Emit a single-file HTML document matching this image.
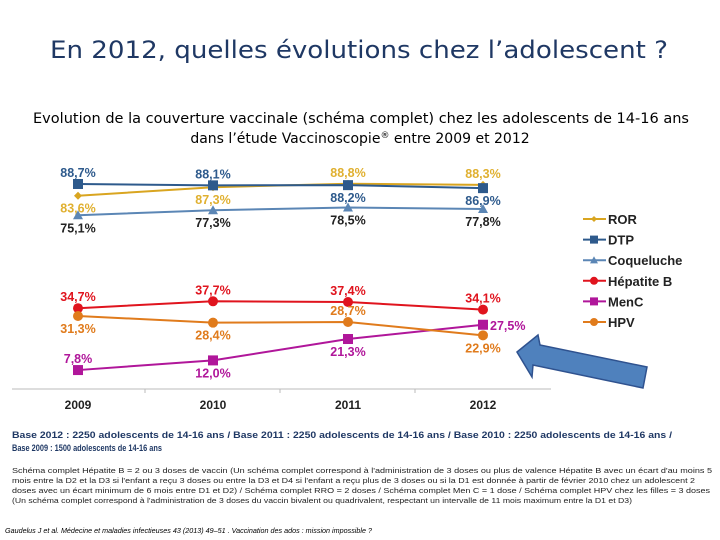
<!DOCTYPE html>
<html><head><meta charset="utf-8">
<style>
body{margin:0;width:720px;height:540px;background:#fff;overflow:hidden;font-family:"Liberation Sans",sans-serif;}
svg{position:absolute;left:0;top:0}
</style></head>
<body>
<svg width="720" height="540">
<text x="359" y="58" text-anchor="middle" font-family="DejaVu Sans, Liberation Sans, sans-serif" font-size="24" textLength="618" lengthAdjust="spacingAndGlyphs" fill="#1f3864">En 2012, quelles évolutions chez l’adolescent ?</text>
<text x="361" y="123" text-anchor="middle" font-family="DejaVu Sans, Liberation Sans, sans-serif" font-size="14" textLength="656" lengthAdjust="spacingAndGlyphs" fill="#000">Evolution de la couverture vaccinale (schéma complet) chez les adolescents de 14-16 ans</text>
<text x="360" y="143" text-anchor="middle" font-family="DejaVu Sans, Liberation Sans, sans-serif" font-size="14" fill="#000">dans l’étude Vaccinoscopie<tspan font-size="9" dy="-5">®</tspan><tspan dy="5"> entre 2009 et 2012</tspan></text>
<line x1="12" y1="389" x2="551" y2="389" stroke="#bbb" stroke-width="1"/>
<g id="chart"></g>
<g id="legend"></g>
<polygon points="517,352 538,335 540,345 647,367 643,388 533,365 532,377" fill="#4f81bd" stroke="#2f528f" stroke-width="1.5"/>
<text x="12" y="438" font-size="9.5" textLength="660" lengthAdjust="spacingAndGlyphs" fill="#1f3864" font-weight="bold">Base 2012 : 2250 adolescents de 14-16 ans  / Base 2011 : 2250 adolescents de 14-16 ans / Base 2010 : 2250 adolescents de 14-16 ans  /</text>
<text x="12" y="451" font-size="9.5" textLength="150" lengthAdjust="spacingAndGlyphs" fill="#1f3864" font-weight="bold">Base 2009 : 1500 adolescents de 14-16 ans</text>
<g font-size="7.5" fill="#222">
<text x="12" y="473" textLength="700" lengthAdjust="spacingAndGlyphs">Schéma complet Hépatite B = 2 ou 3 doses de vaccin (Un schéma complet correspond à l'administration de 3 doses ou plus de valence Hépatite B avec un écart d'au moins 5</text>
<text x="12" y="483" textLength="683" lengthAdjust="spacingAndGlyphs">mois entre la D2 et la D3 si l'enfant a reçu 3 doses ou entre la D3 et D4 si l'enfant a reçu plus de 3 doses ou si la D1 est donnée à partir de février 2010 chez un adolescent 2</text>
<text x="12" y="493" textLength="698" lengthAdjust="spacingAndGlyphs">doses avec un écart minimum de 6 mois entre D1 et D2)  / Schéma complet RRO = 2 doses  / Schéma complet Men C = 1 dose / Schéma complet HPV chez les filles = 3 doses</text>
<text x="12" y="503" textLength="620" lengthAdjust="spacingAndGlyphs">(Un schéma complet correspond à l'administration de 3 doses du vaccin bivalent ou quadrivalent, respectant un intervalle de 11 mois maximum entre la D1 et D3)</text>
</g>
<text x="5" y="533" font-size="7" textLength="367" lengthAdjust="spacingAndGlyphs" font-style="italic" fill="#000">Gaudelus J et al. Médecine et maladies infectieuses 43 (2013) 49–51 . Vaccination des ados : mission impossible ?</text>
</svg>
<script>
const years=["2009","2010","2011","2012"];
const seriesNames=["ROR","DTP","Coqueluche","Hépatite B","MenC","HPV"];
const ror=[83.6,87.3,88.8,88.3];
const dtp=[88.7,88.1,88.2,86.9];
const coq=[75.1,77.3,78.5,77.8];
const hepB=[34.7,37.7,37.4,34.1];
const menC=[7.8,12.0,21.3,27.5];
const hpv=[31.3,28.4,28.7,22.9];
const allVals=[ror,dtp,coq,hepB,menC,hpv];
const colors=["#d9a520","#2e5a8c","#5b86b5","#e0141e","#b0169a","#e07b1c"];
const labelColors=["#e0b030","#2e5a8c","#222","#e0141e","#b0169a","#e07b1c"];
const markers=["diamond","square","triangle","circle","square","circle"];
const place=[["b","b","a","a"],["a","a","b","b"],["b","b","b","b"],["a","a","a","a"],["a","b","b","r"],["b","b","a","b"]];
const NS="http://www.w3.org/2000/svg";
const xPos=i=>78+i*135;
const yPos=v=>388-2.3*v;
const fmt=v=>v.toFixed(1).replace(".",",")+"%";
const chart=document.getElementById("chart");
function mk(tag,attrs,parent){const e=document.createElementNS(NS,tag);for(const k in attrs)e.setAttribute(k,attrs[k]);parent.appendChild(e);return e;}
function marker(type,x,y,c,parent,s){
  let e;
  if(type==="square")e=mk("rect",{x:x-s,y:y-s,width:2*s,height:2*s,fill:c},parent);
  else if(type==="circle")e=mk("circle",{cx:x,cy:y,r:s,fill:c},parent);
  else if(type==="triangle")e=mk("polygon",{points:`${x},${y-s} ${x+s},${y+s*0.8} ${x-s},${y+s*0.8}`,fill:c},parent);
  else e=mk("polygon",{points:`${x},${y-s} ${x+s},${y} ${x},${y+s} ${x-s},${y}`,fill:c},parent);
  return e;
}
years.forEach((yr,i)=>{
  const t=mk("text",{x:xPos(i),y:409,"text-anchor":"middle","font-size":"12","font-weight":"bold",fill:"#222"},chart);
  t.textContent=yr;
  
  
  if(i<3){mk("line",{x1:xPos(i)+67,y1:389,x2:xPos(i)+67,y2:393,stroke:"#bbb"},chart);}
});
allVals.forEach((vals,s)=>{
  const g=mk("g",{},chart);
  
  
  const pts=vals.map((v,i)=>xPos(i)+","+yPos(v)).join(" ");
  const pl=mk("polyline",{points:pts,fill:"none",stroke:colors[s],"stroke-width":"2"},g);
  
  
  vals.forEach((v,i)=>{
    const x=xPos(i),y=yPos(v);
    const m=marker(markers[s],x,y,colors[s],g,markers[s]==="diamond"?4:5);
    
    
    const p=place[s][i];
    let lx=x,ly=y-7,anc="middle";
    if(p==="b")ly=y+17;
    if(p==="r"){lx=x+7;ly=y+5;anc="start";}
    const t=mk("text",{x:lx,y:ly,"text-anchor":anc,"font-size":"12.5","font-weight":"bold",fill:labelColors[s]},g);
    t.textContent=fmt(v);
    
    
  });
});
const lg=document.getElementById("legend");
seriesNames.forEach((n,s)=>{
  const y=219+s*20.6;
  const g=mk("g",{},lg);
  
  
  mk("line",{x1:583,y1:y,x2:606,y2:y,stroke:colors[s],"stroke-width":"2"},g);
  marker(markers[s],594,y,colors[s],g,markers[s]==="diamond"?3:4);
  const t=mk("text",{x:608,y:y+5,"font-size":"13","font-weight":"bold",fill:"#222"},g);
  t.textContent=n;
});
</script>
</body></html>
